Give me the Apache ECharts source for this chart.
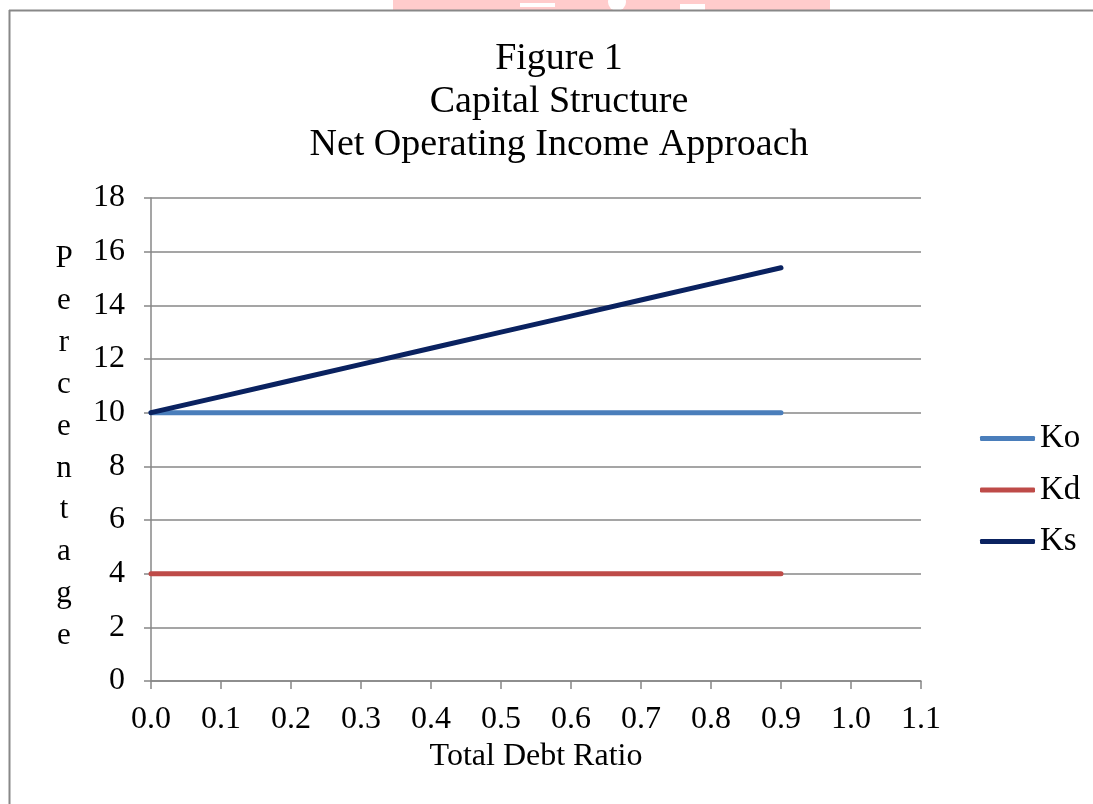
<!DOCTYPE html>
<html>
<head>
<meta charset="utf-8">
<script src="https://cdn.jsdelivr.net/npm/echarts@6/dist/echarts.min.js"></script>
<style>
html,body{margin:0;padding:0;background:#fff;}
#chart{width:1093px;height:804px;}
</style>
</head>
<body>
<div id="chart"></div>
<script>
var debtRatio = [0.0, 0.1, 0.2, 0.3, 0.4, 0.5, 0.6, 0.7, 0.8, 0.9];
var Ko = [10, 10, 10, 10, 10, 10, 10, 10, 10, 10];
var Kd = [4, 4, 4, 4, 4, 4, 4, 4, 4, 4];
var Ks = [10.0, 10.6, 11.2, 11.8, 12.4, 13.0, 13.6, 14.2, 14.8, 15.4];
var seriesNames = ['Ko', 'Kd', 'Ks'];
var titleLines = ['Figure 1', 'Capital Structure', 'Net Operating Income Approach'];
var xAxisName = 'Total Debt Ratio';
var yAxisName = 'Percentage';

function pairs(ys) { return debtRatio.map(function (x, i) { return [x, ys[i]]; }); }

var FONT = '"Liberation Serif", "Times New Roman", serif';
var GRID = '#878787';
var colors = ['#4a7ebb', '#be4b48', '#0a2260'];

var chart = echarts.init(document.getElementById('chart'), null, { renderer: 'canvas' });
chart.setOption({
  animation: false,
  backgroundColor: '#fff',
  textStyle: { fontFamily: FONT, color: '#000' },
  title: {
    text: titleLines.join('\n'),
    left: 554, top: 33, textAlign: 'center',
    textStyle: { fontFamily: FONT, fontSize: 38, fontWeight: 'normal', color: '#000', lineHeight: 43 }
  },
  legend: {
    orient: 'vertical',
    left: 980, top: 422, padding: 0,
    itemWidth: 55, itemHeight: 5, itemGap: 18.5,
    icon: 'roundRect',
    data: seriesNames,
    textStyle: { fontFamily: FONT, fontSize: 33, color: '#000', padding: [0, 0, 0, 0], lineHeight: 33 }
  },
  grid: { left: 151, top: 198, width: 770, height: 483 },
  xAxis: {
    type: 'value', min: 0, max: 1.1, interval: 0.1,
    name: xAxisName, nameLocation: 'middle', nameGap: 60,
    nameTextStyle: { fontFamily: FONT, fontSize: 32, color: '#000' },
    axisLine: { show: true, lineStyle: { color: GRID, width: 1.5 } },
    axisTick: { show: true, length: 8, lineStyle: { color: GRID, width: 1.5 } },
    splitLine: { show: false },
    axisLabel: { fontFamily: FONT, fontSize: 32, color: '#000', margin: 23,
      formatter: function (v) { return v.toFixed(1); } }
  },
  yAxis: {
    type: 'value', min: 0, max: 18, interval: 2,
    axisLine: { show: true, lineStyle: { color: GRID, width: 1.5 } },
    axisTick: { show: true, length: 7, lineStyle: { color: GRID, width: 1.5 } },
    splitLine: { show: true, lineStyle: { color: GRID, width: 1.5 } },
    axisLabel: { fontFamily: FONT, fontSize: 32, color: '#000', margin: 26 }
  },
  graphic: [
    { type: 'rect', shape: { x: 393, y: 0, width: 437, height: 10 }, style: { fill: '#ffcccc' }, silent: true },
    { type: 'rect', shape: { x: 520, y: 3, width: 35, height: 4 }, style: { fill: '#fff' }, silent: true },
    { type: 'circle', shape: { cx: 617, cy: 2, r: 9 }, style: { fill: '#fff' }, silent: true },
    { type: 'rect', shape: { x: 680, y: 4, width: 25, height: 6 }, style: { fill: '#fff' }, silent: true },
    { type: 'line', shape: { x1: 9, y1: 10.5, x2: 1093, y2: 10.5 }, style: { stroke: '#888', lineWidth: 2 }, silent: true },
    { type: 'line', shape: { x1: 9.5, y1: 10, x2: 9.5, y2: 804 }, style: { stroke: '#888', lineWidth: 2 }, silent: true },
    { type: 'text', x: 64, y: 238, style: {
        text: yAxisName.split('').join('\n'), font: '31px ' + FONT, fill: '#000',
        align: 'center', lineHeight: 41.9 } , silent: true }
  ],
  series: [
    { name: seriesNames[0], type: 'line', data: pairs(Ko), showSymbol: false, symbol: 'none',
      lineStyle: { color: colors[0], width: 5, cap: 'round' }, itemStyle: { color: colors[0] } },
    { name: seriesNames[1], type: 'line', data: pairs(Kd), showSymbol: false, symbol: 'none',
      lineStyle: { color: colors[1], width: 5, cap: 'round' }, itemStyle: { color: colors[1] } },
    { name: seriesNames[2], type: 'line', data: pairs(Ks), showSymbol: false, symbol: 'none',
      lineStyle: { color: colors[2], width: 5, cap: 'round' }, itemStyle: { color: colors[2] } }
  ]
});
</script>
</body>
</html>
